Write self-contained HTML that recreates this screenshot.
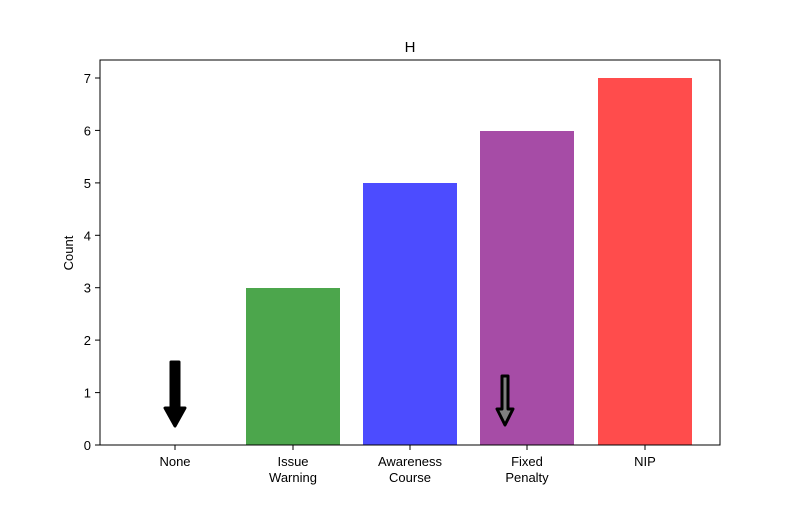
<!DOCTYPE html><html><head><style>body{margin:0;background:#fff}</style></head><body>
<svg width="800" height="500" xmlns="http://www.w3.org/2000/svg" font-family="Liberation Sans, DejaVu Sans, sans-serif" font-size="13">
<rect width="800" height="500" fill="#fff"/>
<rect x="246" y="288" width="94" height="157" fill="#4ca64c"/>
<rect x="363" y="183" width="94" height="262" fill="#4c4cff"/>
<rect x="480" y="131" width="94" height="314" fill="#a64ca6"/>
<rect x="598" y="78" width="94" height="367" fill="#ff4c4c"/>
<path d="M171,362 H179 V408 H185 L175,426 L165,408 H171 Z" fill="#000" stroke="#000" stroke-width="3" stroke-linejoin="round"/>
<path d="M502,376 H508 V409 H513 L505,425 L497,409 H502 Z" fill="#808080" stroke="#000" stroke-width="3" stroke-linejoin="round"/>
<rect x="100" y="60" width="620" height="385" fill="none" stroke="#000" stroke-width="1"/>
<g stroke="#000">
<line x1="95" x2="100" y1="445" y2="445"/><line x1="95" x2="100" y1="392.6" y2="392.6"/><line x1="95" x2="100" y1="340.1" y2="340.1"/><line x1="95" x2="100" y1="287.7" y2="287.7"/><line x1="95" x2="100" y1="235.3" y2="235.3"/><line x1="95" x2="100" y1="182.9" y2="182.9"/><line x1="95" x2="100" y1="130.4" y2="130.4"/><line x1="95" x2="100" y1="78" y2="78"/>
<line x1="175" x2="175" y1="445" y2="450"/><line x1="293" x2="293" y1="445" y2="450"/><line x1="410" x2="410" y1="445" y2="450"/><line x1="527" x2="527" y1="445" y2="450"/><line x1="645" x2="645" y1="445" y2="450"/>
</g>
<g text-anchor="end">
<text x="91" y="450">0</text><text x="91" y="397.6">1</text><text x="91" y="345.1">2</text><text x="91" y="292.7">3</text><text x="91" y="240.3">4</text><text x="91" y="187.9">5</text><text x="91" y="135.4">6</text><text x="91" y="83">7</text>
</g>
<g text-anchor="middle">
<text x="175" y="466">None</text>
<text x="293" y="466">Issue</text><text x="293" y="482">Warning</text>
<text x="410" y="466">Awareness</text><text x="410" y="482">Course</text>
<text x="527" y="466">Fixed</text><text x="527" y="482">Penalty</text>
<text x="645" y="466">NIP</text>
<text x="410" y="52" font-size="15">H</text>
<text transform="translate(73,253) rotate(-90)">Count</text>
</g>
</svg></body></html>
